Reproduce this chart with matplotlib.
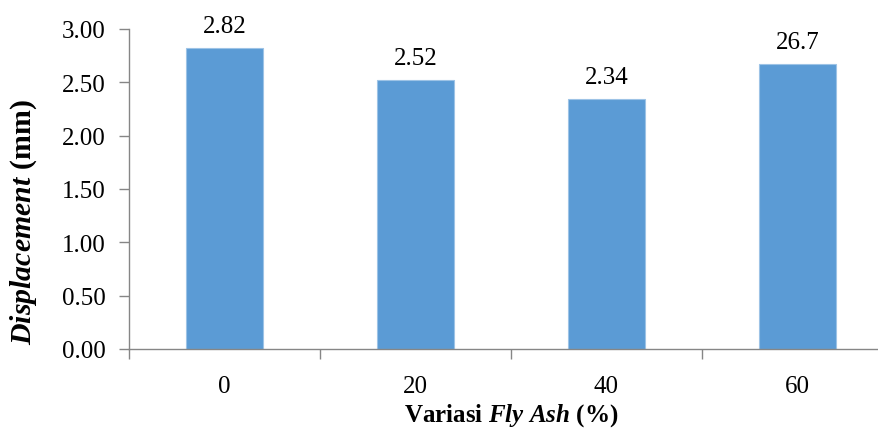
import matplotlib
matplotlib.use("Agg")
import matplotlib.pyplot as plt
import numpy as np

# Fly ash variation (%) and measured displacement (mm)
categories = ["0", "20", "40", "60"]
displacement = [2.82, 2.52, 2.34, 2.67]
value_labels = ["2.82", "2.52", "2.34", "26.7"]
y_ticks = [0.0, 0.5, 1.0, 1.5, 2.0, 2.5, 3.0]

plt.rcParams["font.family"] = ["Liberation Serif", "DejaVu Serif"]
plt.rcParams["mathtext.fontset"] = "custom"
plt.rcParams["mathtext.rm"] = "Liberation Serif:bold"
plt.rcParams["mathtext.it"] = "Liberation Serif:bold:italic"
plt.rcParams["mathtext.bf"] = "Liberation Serif:bold"

W, H = 879, 435
fig = plt.figure(figsize=(W / 100, H / 100), dpi=100)
ax = fig.add_axes([129 / W, (H - 350) / H, 764 / W, 320 / H])

x = np.arange(len(categories)) + 0.5
bar_color = "#5B9BD5"
ax.bar(x, displacement, width=0.4, color=bar_color, edgecolor="#9DC3E6", linewidth=0.8)

for xi, v, lab in zip(x, displacement, value_labels):
    ax.annotate(lab, (xi, v), xytext=(0, 12), textcoords="offset points",
                ha="center", va="baseline", fontsize=18)

ax.set_xlim(0, len(categories))
ax.set_ylim(0, 3.0)
ax.set_yticks(y_ticks)
ax.set_yticklabels([f"{t:.2f}" for t in y_ticks], fontsize=18)

ax.set_xticks(x)
ax.set_xticklabels(categories, fontsize=18)
ax.set_xticks(np.arange(len(categories) + 1), minor=True)
ax.tick_params(axis="x", which="major", length=0, pad=19)
ax.tick_params(axis="x", which="minor", length=7, color="#868686", width=1)
ax.tick_params(axis="y", length=7, color="#868686", width=1, pad=10)

for s in ["top", "right"]:
    ax.spines[s].set_visible(False)
for s in ["left", "bottom"]:
    ax.spines[s].set_color("#868686")
    ax.spines[s].set_linewidth(1)

ax.set_ylabel(r"$\it{Displacement}$ (mm)", fontsize=21.5, fontweight="bold")
ax.yaxis.set_label_coords(-0.118, 0.40)
ax.set_xlabel(r"Variasi $\it{Fly\ Ash}$ (%)", fontsize=18, fontweight="bold", labelpad=3)

fig.savefig("out.png", dpi=100)
